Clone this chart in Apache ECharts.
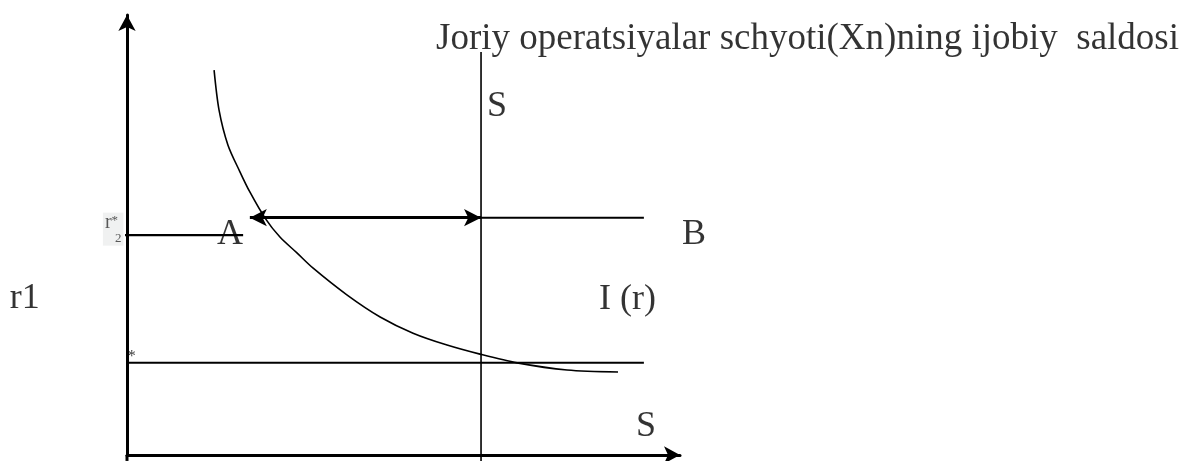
<!DOCTYPE html>
<html>
<head>
<meta charset="utf-8">
<script src="https://cdn.jsdelivr.net/npm/echarts@6/dist/echarts.min.js"></script>
<style>
  html, body { margin: 0; padding: 0; background: #fff; }
  #chart { width: 1190px; height: 461px; }
</style>
</head>
<body>
<div id="chart"></div>
<script>
// I(r) curve: savings/investment units (x) vs interest rate units (y)
const curveX = [2.46, 2.60, 2.85, 3.19, 3.47, 3.90, 4.32, 4.80, 5.25, 6.21, 7.15, 8.08, 9.04, 9.97, 11.02, 12.43, 13.87];
const curveY = [9.73, 8.72, 7.84, 7.16, 6.65, 5.99, 5.51, 5.11, 4.73, 4.05, 3.49, 3.08, 2.78, 2.55, 2.33, 2.15, 2.10];

// vertical S line and horizontal rate lines
const sLineX = [10, 10];
const sLineY = [10.19, -0.15];
const upperRateX = [10, 14.6];
const upperRateY = [6, 6];
const lowerRateX = [0, 14.6];
const lowerRateY = [2.33, 2.33];
const r2LineX = [-0.4, 3.28];
const r2LineY = [5.56, 5.56];
// y axis runs a little below the origin
const yTailX = [0, 0];
const yTailY = [0, -0.15];
// double arrow A <-> S
const arrowX = [3.47, 10];
const arrowY = 6;

// text labels
const labelText = ['Joriy operatsiyalar schyoti(Xn)ning ijobiy  saldosi', 'S', 'A', 'B', 'r1', 'I (r)', 'S'];
const labelX = [8.73, 10.17, 2.54, 15.68, -3.31, 13.33, 14.38];
const labelY = [10.52, 8.81, 5.58, 5.58, 3.96, 3.93, 0.72];

const pairs = (xs, ys) => xs.map((x, i) => [x, ys[i]]);

const chart = echarts.init(document.getElementById('chart'));

const thinLine = (data, width) => ({
  type: 'line',
  data: data,
  symbol: 'none',
  clip: false,
  silent: true,
  lineStyle: { color: '#000', width: width },
});

const axisCommon = {
  type: 'value',
  min: 0,
  axisLine: {
    show: true,
    symbol: ['none', 'arrow'],
    symbolSize: [13, 16],
    lineStyle: { color: '#000', width: 3 },
  },
  axisTick: { show: false },
  axisLabel: { show: false },
  splitLine: { show: false },
};

const option = {
  animation: false,
  grid: { left: 127, top: 15, width: 553, height: 440 },
  xAxis: Object.assign({}, axisCommon, { max: 15.62 }),
  yAxis: Object.assign({}, axisCommon, { max: 11.125 }),
  series: [
    {
      type: 'line',
      data: pairs(curveX, curveY),
      smooth: 0.3,
      symbol: 'none',
      clip: false,
      lineStyle: { color: '#000', width: 1.6 },
    },
    thinLine(pairs(sLineX, sLineY), 1.6),
    thinLine(pairs(upperRateX, upperRateY), 2),
    thinLine(pairs(lowerRateX, lowerRateY), 2),
    thinLine(pairs(r2LineX, r2LineY), 2.4),
    thinLine(pairs(yTailX, yTailY), 3),
    {
      type: 'line',
      data: [],
      markLine: {
        silent: true,
        symbol: ['arrow', 'arrow'],
        symbolSize: [13, 17],
        label: { show: false },
        lineStyle: { color: '#000', width: 3, type: 'solid' },
        data: [[{ coord: [arrowX[0], arrowY] }, { coord: [arrowX[1], arrowY] }]],
      },
    },
    {
      type: 'scatter',
      symbolSize: 0,
      clip: false,
      silent: true,
      data: labelText.map((t, i) => ({
        value: [labelX[i], labelY[i]],
        label: { formatter: t, fontSize: i === 0 ? 37 : 36 },
      })),
      label: {
        show: true,
        position: [0, 0],
        align: 'left',
        verticalAlign: 'middle',
        color: '#000',
        fontFamily: 'Liberation Serif',
      },
    },
    {
      type: 'scatter',
      symbolSize: 0,
      clip: false,
      silent: true,
      data: [
        {
          value: [-0.68, 5.71],
          label: {
            formatter: '{r|r}{s|*}\n{b|2}',
            backgroundColor: '#eceeee',
            padding: [1, 2],
            rich: {
              r: { fontSize: 20, fontFamily: 'Liberation Serif', color: '#333', lineHeight: 18 },
              s: { fontSize: 13, fontFamily: 'Liberation Serif', color: '#333', verticalAlign: 'top' },
              b: { fontSize: 13, fontFamily: 'Liberation Serif', color: '#333', lineHeight: 13, padding: [0, 0, 0, 10] },
            },
          },
        },
        {
          value: [0.02, 2.48],
          label: { formatter: '*', fontSize: 16, fontFamily: 'Liberation Serif', color: '#000' },
        },
      ],
      label: {
        show: true,
        position: [0, 0],
        align: 'left',
        verticalAlign: 'middle',
      },
    },
  ],
};

chart.setOption(option);
</script>
</body>
</html>
